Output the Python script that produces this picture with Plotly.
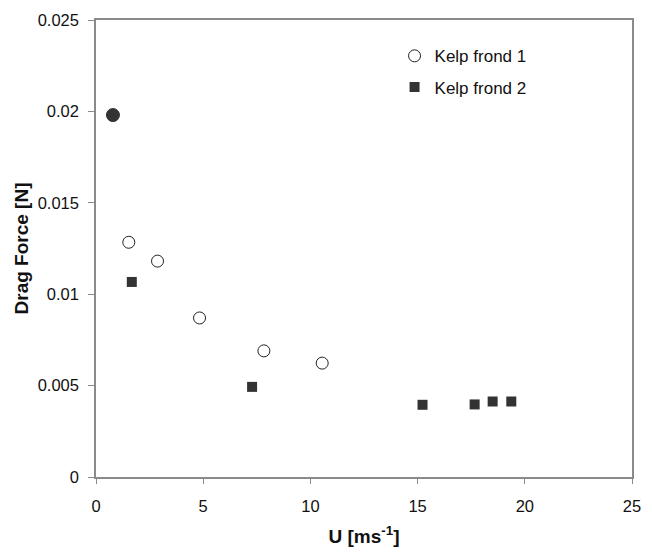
import plotly.graph_objects as go

# Data
frond1_u = [0.79, 1.53, 2.87, 4.83, 7.83, 10.55]
frond1_f = [0.0198, 0.01284, 0.01181, 0.0087, 0.0069, 0.00623]
frond2_u = [1.67, 7.28, 15.23, 17.66, 18.5, 19.37]
frond2_f = [0.01067, 0.00493, 0.00395, 0.00397, 0.00413, 0.00413]

x_ticks = [0, 5, 10, 15, 20, 25]
x_labels = ["0", "5", "10", "15", "20", "25"]
y_ticks = [0, 0.005, 0.01, 0.015, 0.02, 0.025]
y_labels = ["0", "0.005", "0.01", "0.015", "0.02", "0.025"]

FONT = "Liberation Sans, Arial, sans-serif"
AX = "#8a8a8a"

fig = go.Figure()
fig.add_trace(go.Scatter(
    x=frond1_u[1:], y=frond1_f[1:], mode="markers", name="Kelp frond 1",
    legendgroup="g1",
    marker=dict(symbol="circle", size=12, color="white",
                line=dict(color="#222222", width=1)),
))
fig.add_trace(go.Scatter(
    x=frond2_u, y=frond2_f, mode="markers", name="Kelp frond 2",
    legendgroup="g2",
    marker=dict(symbol="square", size=10, color="#333333",
                line=dict(width=0)),
))
fig.add_trace(go.Scatter(
    x=frond1_u[:1], y=frond1_f[:1], mode="markers", name="Kelp frond 1",
    legendgroup="g1", showlegend=False,
    marker=dict(symbol="circle", size=13, color="#333333",
                line=dict(color="#333333", width=1)),
))

fig.update_layout(
    width=652, height=554,
    margin=dict(l=96, r=10.5, t=17.5, b=67.5),
    paper_bgcolor="white", plot_bgcolor="white",
    font=dict(family=FONT, size=16, color="#111111"),
    showlegend=True,
    legend=dict(x=0.557, y=0.96, xanchor="left", yanchor="top",
                bgcolor="rgba(0,0,0,0)", borderwidth=0,
                font=dict(size=17, color="#111111"),
                tracegroupgap=6, traceorder="grouped"),
    xaxis=dict(
        range=[0, 25], tickvals=x_ticks, ticktext=x_labels,
        showgrid=False, zeroline=False,
        showline=True, linecolor=AX, linewidth=1.5, mirror=True,
        ticks="outside", ticklen=5, tickcolor=AX, tickwidth=1,
        tickfont=dict(size=16.5), ticklabelstandoff=8,
        title=dict(text="<b>U [ms<sup>-1</sup>]</b>", font=dict(size=19), standoff=16),
    ),
    yaxis=dict(
        range=[0, 0.025], tickvals=y_ticks, ticktext=y_labels,
        showgrid=False, zeroline=False,
        showline=True, linecolor=AX, linewidth=1.5, mirror=True,
        ticks="outside", ticklen=6, tickcolor=AX, tickwidth=1,
        tickfont=dict(size=16.5), ticklabelstandoff=6,
        title=dict(text="<b>Drag Force [N]</b>", font=dict(size=19), standoff=4),
    ),
)

fig.write_html("out.html")
